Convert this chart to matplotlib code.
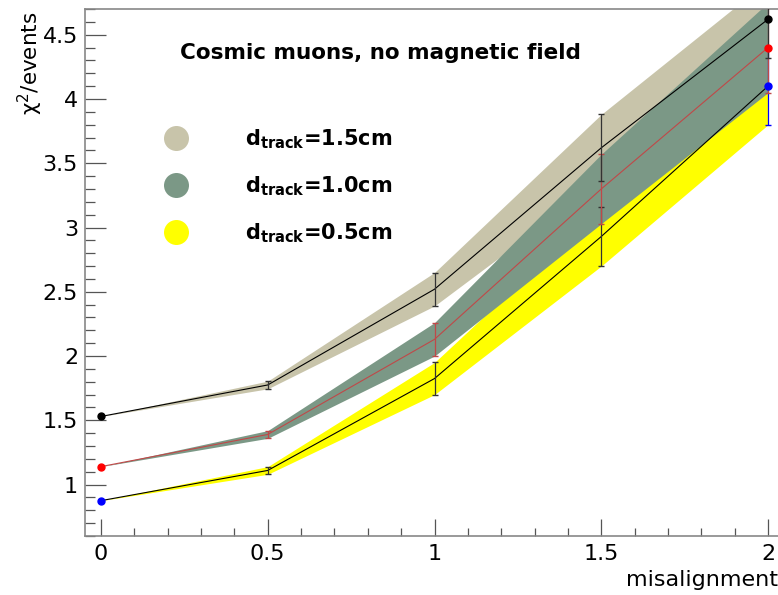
import matplotlib
matplotlib.use("Agg")
import matplotlib.pyplot as plt
from matplotlib.lines import Line2D
from matplotlib.ticker import MultipleLocator

plt.rcParams['font.family'] = ['DejaVu Sans']
plt.rcParams['mathtext.fontset'] = 'dejavusans'

# misalignment values and chi2/events for the three track distances
misalign = [0, 0.5, 1, 1.5, 2]
chi_15 = [1.53, 1.775, 2.52, 3.62, 4.62]
err_15 = [0.0, 0.03, 0.13, 0.26, 0.30]
chi_10 = [1.14, 1.39, 2.13, 3.30, 4.40]
err_10 = [0.0, 0.03, 0.13, 0.27, 0.35]
chi_05 = [0.875, 1.11, 1.825, 2.93, 4.10]
err_05 = [0.0, 0.03, 0.125, 0.23, 0.30]
labels = ["1.5cm", "1.0cm", "0.5cm"]

tan = '#c8c4aa'
green = '#7b9886'
yellow = '#ffff00'

fig = plt.figure(figsize=(7.78, 5.95), dpi=100)
ax = fig.add_axes([85 / 778, 1 - 536 / 595, 705 / 778, 527 / 595])


def band(y, e, color):
    lo = [a - b for a, b in zip(y, e)]
    hi = [a + b for a, b in zip(y, e)]
    ax.fill_between(misalign, lo, hi, color=color, lw=0, zorder=1)


band(chi_15, err_15, tan)
band(chi_05, err_05, yellow)
band(chi_10, err_10, green)

# lines
ax.plot(misalign, chi_15, color='black', lw=0.8, zorder=3)
ax.plot(misalign, chi_10, color='#c04848', lw=0.8, zorder=3)
ax.plot(misalign, chi_05, color='black', lw=0.8, zorder=3)

# error bars
ax.errorbar(misalign[1:4], chi_05[1:4], yerr=err_05[1:4], fmt='none',
            ecolor='#333333', elinewidth=0.9, capsize=2, zorder=4)
ax.errorbar(misalign[4:], chi_05[4:], yerr=err_05[4:], fmt='none',
            ecolor='blue', elinewidth=0.9, capsize=2, zorder=4)
ax.errorbar(misalign[1:], chi_10[1:], yerr=err_10[1:], fmt='none',
            ecolor='#c04848', elinewidth=0.9, capsize=2, zorder=4)
ax.errorbar(misalign[1:], chi_15[1:], yerr=err_15[1:], fmt='none',
            ecolor='#333333', elinewidth=0.9, capsize=2, zorder=5)

# end markers
ends = [0, 4]
ax.plot([misalign[i] for i in ends], [chi_15[i] for i in ends], 'o', color='black', ms=5, zorder=6)
ax.plot([misalign[i] for i in ends], [chi_10[i] for i in ends], 'o', color='red', ms=5, zorder=6)
ax.plot([misalign[i] for i in ends], [chi_05[i] for i in ends], 'o', color='blue', ms=5, zorder=6)

ax.set_xlim(-16 / 334, 2 + 22 / 334)
ax.set_ylim(0.6, 4.7)
ax.xaxis.set_minor_locator(MultipleLocator(0.1))
ax.yaxis.set_minor_locator(MultipleLocator(0.1))
ax.set_xticks(misalign)
ax.set_xticklabels(['0', '0.5', '1', '1.5', '2'])
ax.set_yticks([1, 1.5, 2, 2.5, 3, 3.5, 4, 4.5])
ax.set_yticklabels(['1', '1.5', '2', '2.5', '3', '3.5', '4', '4.5'])
ax.tick_params(which='major', direction='in', length=15, width=0.9, color='#555555',
               labelsize=16, pad=5, top=False, right=False)
ax.tick_params(which='minor', direction='in', length=7, width=0.9, color='#555555',
               top=False, right=False)
ax.tick_params(axis='x', which='major', length=12, pad=6)
ax.tick_params(axis='x', which='minor', length=6)
for side in ['left', 'bottom', 'top']:
    ax.spines[side].set_color('#888888')
    ax.spines[side].set_linewidth(1.2)
ax.spines['right'].set_visible(False)

# legend
handles = [Line2D([], [], ls='none', marker='o', ms=18, mec='none', mfc=c)
           for c in [tan, green, yellow]]
leg_labels = [r"$\mathbf{d_{track}}$=" + s for s in labels]
leg = ax.legend(handles, leg_labels, loc='upper left', frameon=False,
                bbox_to_anchor=((155 - 85) / 705, 1 - (127 - 9) / 527),
                prop={'weight': 'bold', 'size': 15}, handlelength=2.0,
                handletextpad=2.3, labelspacing=1.13, borderaxespad=0, borderpad=0)

fig.text(380 / 778, 1 - 53 / 595, "Cosmic muons, no magnetic field",
         ha='center', va='center', fontsize=15.5, fontweight='bold')
fig.text(30 / 778, 1 - 12 / 595, "χ$^{2}$/events", rotation=90,
         ha='center', va='top', fontsize=15.5)
fig.text(778 / 778, 1 - 580 / 595, "misalignment", ha='right', va='center', fontsize=16)

fig.savefig("out.png", dpi=100)
